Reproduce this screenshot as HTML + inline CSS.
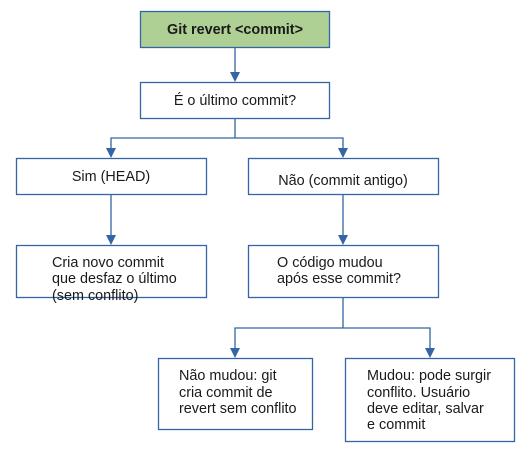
<!DOCTYPE html>
<html><head><meta charset="utf-8"><style>
body{margin:0;background:#fff;}
svg text{font-family:"Liberation Sans",sans-serif;font-size:14.4px;fill:#1a1a1a;}
</style></head><body>
<svg width="528" height="451" viewBox="0 0 528 451" xmlns="http://www.w3.org/2000/svg">
<g stroke="#3465a4" stroke-width="1.3" fill="none">
<rect x="140.5" y="11.5" width="189" height="36" fill="#afd095"/>
<rect x="140.5" y="82.5" width="189" height="36" fill="#fff"/>
<rect x="16.5" y="158.5" width="190" height="36" fill="#fff"/>
<rect x="248.5" y="158.5" width="190" height="36" fill="#fff"/>
<rect x="16.5" y="245.5" width="190" height="52" fill="#fff"/>
<rect x="248.5" y="245.5" width="190" height="52" fill="#fff"/>
<rect x="158.5" y="358.5" width="154" height="71" fill="#fff"/>
<rect x="345.5" y="358.5" width="169" height="83" fill="#fff"/>
<path d="M235 47V73 M235 118V138H111V149 M235 138H343V149 M111 194V236 M343 194V236 M343 297V328H235V349 M343 328H430V349"/>
</g>
<g fill="#3465a4">
<path d="M230 72h10l-5 10z"/>
<path d="M106 148h10l-5 10z"/>
<path d="M338 148h10l-5 10z"/>
<path d="M106 235h10l-5 10z"/>
<path d="M338 235h10l-5 10z"/>
<path d="M230 348h10l-5 10z"/>
<path d="M425 348h10l-5 10z"/>
</g>
<text x="235" y="34" text-anchor="middle" style="font-weight:bold">Git revert &lt;commit&gt;</text>
<text x="235" y="105" text-anchor="middle">É o último commit?</text>
<text x="111" y="181" text-anchor="middle">Sim (HEAD)</text>
<text x="343" y="185" text-anchor="middle">Não (commit antigo)</text>
<text x="52" y="267">Cria novo commit</text>
<text x="52" y="283">que desfaz o último</text>
<text x="52" y="300">(sem conflito)</text>
<text x="277" y="267">O código mudou</text>
<text x="277" y="283">após esse commit?</text>
<text x="179" y="380">Não mudou: git</text>
<text x="179" y="397">cria commit de</text>
<text x="179" y="413">revert sem conflito</text>
<text x="367" y="380">Mudou: pode surgir</text>
<text x="367" y="397">conflito. Usuário</text>
<text x="367" y="413">deve editar, salvar</text>
<text x="367" y="429">e commit</text>
</svg>
</body></html>
